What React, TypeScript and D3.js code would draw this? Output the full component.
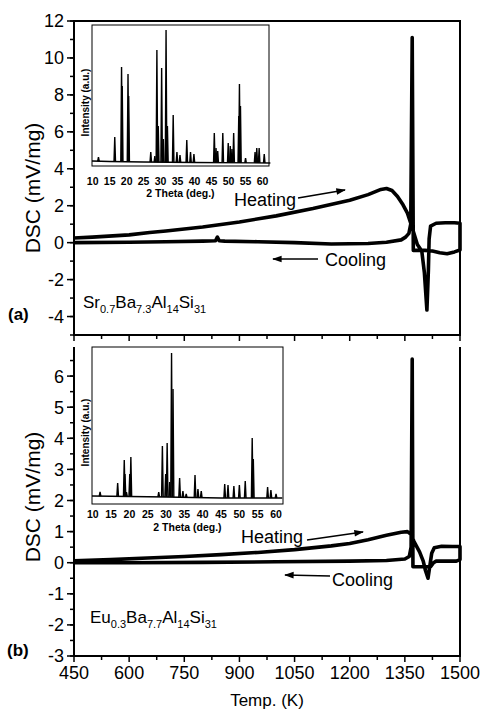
import React from 'react';
import * as d3 from 'd3';

// DSC traces, panel (a)
const aHeatT = [450, 500, 600, 656, 700, 800, 900, 1000, 1100, 1200, 1250, 1285, 1300, 1315, 1330, 1345, 1357, 1366, 1374, 1384, 1396, 1403, 1410, 1414, 1416, 1420, 1435, 1460, 1485, 1500];
const aHeatV = [0.25, 0.3, 0.42, 0.55, 0.63, 0.85, 1.12, 1.45, 1.85, 2.3, 2.6, 2.88, 2.93, 2.82, 2.5, 2.05, 1.6, 1.05, 0.55, -0.1, -0.45, -1.6, -3.65, -1.5, 0.2, 0.9, 1.05, 1.08, 1.08, 1.05];
const aCoolT = [1500, 1485, 1465, 1445, 1425, 1405, 1385, 1373, 1370, 1366, 1361, 1352, 1340, 1300, 1250, 1150, 1050, 950, 860, 845, 840, 835, 800, 700, 600, 450];
const aCoolV = [-0.4, -0.5, -0.6, -0.55, -0.45, -0.42, -0.42, -0.42, 11.1, 1.0, 0.5, 0.3, 0.15, 0.02, -0.05, -0.07, 0.0, 0.05, 0.08, 0.1, 0.3, 0.1, 0.08, 0.05, 0.02, 0.0];

// DSC traces, panel (b)
const bHeatT = [450, 550, 650, 750, 850, 950, 1050, 1150, 1200, 1250, 1300, 1340, 1357, 1366, 1375, 1390, 1400, 1406, 1413, 1418, 1423, 1430, 1450, 1480, 1500];
const bHeatV = [0.06, 0.1, 0.15, 0.2, 0.26, 0.33, 0.42, 0.54, 0.62, 0.74, 0.88, 0.98, 1.0, 0.92, 0.68, 0.35, 0.05, -0.25, -0.5, -0.1, 0.3, 0.48, 0.53, 0.52, 0.52];
const bCoolT = [1500, 1490, 1460, 1435, 1428, 1420, 1395, 1372, 1370, 1367, 1362, 1350, 1300, 1200, 1000, 800, 600, 450];
const bCoolV = [0.1, 0.05, 0.05, 0.05, 0.0, -0.13, -0.13, -0.13, 6.55, 0.5, 0.2, 0.12, 0.07, 0.05, 0.03, 0.01, 0.0, 0.0];

const tempTicks = [450, 600, 750, 900, 1050, 1200, 1350, 1500];
const aTicks = [-4, -2, 0, 2, 4, 6, 8, 10, 12];
const bTicks = [-3, -2, -1, 0, 1, 2, 3, 4, 5, 6];
const thetaTicks = [10, 15, 20, 25, 30, 35, 40, 45, 50, 55, 60];

// XRD insets: baseline and peaks (2theta, intensity a.u.)
const aBaseT = [9.8, 15, 25, 40, 62.3];
const aBaseI = [5, 4.5, 4, 3.5, 3];
const aPeakPos = [11.7, 16.5, 18.5, 18.7, 20.4, 20.6, 27.1, 28.3, 28.9, 29.3, 30.3, 30.8, 31.6, 32.0, 33.7, 34.8, 35.7, 37.7, 38.8, 39.8, 45.8, 46.3, 46.8, 48.3, 49.9, 50.5, 51.0, 51.5, 53.0, 53.2, 53.5, 55.0, 57.8, 58.3, 59.0, 60.5];
const aPeakInt = [9, 29, 99, 80, 92, 70, 14, 10, 116, 40, 98, 27, 136, 40, 51, 14, 11, 26, 14, 12, 33, 18, 15, 33, 23, 20, 17, 33, 50, 82, 60, 8, 14, 18, 18, 12];
const bBaseT = [9.8, 20, 30, 45, 61.7];
const bBaseI = [8, 7.5, 7, 6, 6];
const bPeakPos = [12.0, 16.8, 18.6, 18.8, 19.2, 20.1, 20.4, 28.0, 29.0, 29.9, 30.3, 31.0, 31.5, 31.9, 33.7, 34.6, 35.5, 37.9, 38.7, 39.6, 46.0, 46.9, 48.5, 50.0, 51.6, 53.5, 53.8, 57.7, 58.6, 60.0];
const bPeakInt = [12, 21, 44, 30, 12, 30, 47, 12, 58, 30, 61, 22, 151, 115, 26, 13, 10, 29, 15, 13, 20, 19, 18, 19, 23, 66, 45, 17, 14, 10];

const FONT = 'Liberation Sans, Arial, Helvetica, sans-serif';

const x = d3.scaleLinear().domain([450, 1500]).range([74, 460]);
const ya = d3.scaleLinear().domain([-5, 12]).range([335, 21]);
const yb = d3.scaleLinear().domain([-3, 7]).range([656, 345]);

function trace(ts: number[], vs: number[], ys: d3.ScaleLinear<number, number>) {
  return d3.line<number>().x((t) => x(t)).y((_, i) => ys(vs[i]))(ts) as string;
}

function YAxis({ ys, ticks, lo, hi, step }: any) {
  const minors = d3.range(lo, hi + 1e-9, step);
  return (
    <g>
      {minors.map((v: number) => (
        <line key={'m' + v} x1={70} x2={74} y1={ys(v)} y2={ys(v)} stroke="#000" strokeWidth={1.5} />
      ))}
      {ticks.map((v: number) => (
        <g key={v}>
          <line x1={67} x2={74} y1={ys(v)} y2={ys(v)} stroke="#000" strokeWidth={1.5} />
          <text x={64} y={ys(v)} dy="0.36em" textAnchor="end" fontSize={18}>{v}</text>
        </g>
      ))}
    </g>
  );
}

function XTicks({ y0 }: { y0: number }) {
  const minors = d3.range(525, 1500, 150);
  return (
    <g>
      {tempTicks.map((t) => (
        <line key={t} x1={x(t)} x2={x(t)} y1={y0} y2={y0 + 6} stroke="#000" strokeWidth={1.5} />
      ))}
      {minors.map((t) => (
        <line key={'m' + t} x1={x(t)} x2={x(t)} y1={y0} y2={y0 + 4} stroke="#000" strokeWidth={1.5} />
      ))}
    </g>
  );
}

function Inset({ x0, x1, y0, y1, baseT, baseI, pos, ints, imax, tickY, titleY }: any) {
  const sx = d3.scaleLinear().domain([9.8, 61.9]).range([x0, x1]);
  const sy = d3.scaleLinear().domain([0, imax]).range([y1, y0]);
  const base = d3.scaleLinear().domain(baseT).range(baseI);
  const baseLine = d3.line<number>().x((t) => sx(t)).y((_, i) => sy(baseI[i]))(baseT) as string;
  const w = 0.22;
  return (
    <g>
      <rect x={x0} y={y0} width={x1 - x0} height={y1 - y0} fill="#fff" stroke="#000" strokeWidth={1} />
      <path d={baseLine} fill="none" stroke="#000" strokeWidth={1.4} />
      {pos.map((p: number, i: number) => (
        <path
          key={i}
          d={`M${sx(p - w)},${sy(base(p - w))}L${sx(p)},${sy(ints[i])}L${sx(p + w)},${sy(base(p + w))}`}
          fill="none"
          stroke="#000"
          strokeWidth={1.4}
        />
      ))}
      {thetaTicks.map((t) => (
        <text key={t} x={sx(t)} y={tickY} dy="0.35em" textAnchor="middle" fontSize={10.5} fontWeight="bold">{t}</text>
      ))}
      <text x={(x0 + x1) / 2} y={titleY} dy="0.35em" textAnchor="middle" fontSize={10.5} fontWeight="bold">2 Theta (deg.)</text>
      <text transform={`translate(85,${(y0 + y1) / 2 + 7}) rotate(-90)`} dy="0.35em" textAnchor="middle" fontSize={10} fontWeight="bold">Intensity (a.u.)</text>
    </g>
  );
}

function Formula({ x0, y0, a, b }: { x0: number; y0: number; a: string[]; b: string[] }) {
  // a: element symbols, b: subscripts
  return (
    <text x={x0} y={y0} fontSize={17}>
      {a.map((el, i) => (
        <React.Fragment key={i}>
          <tspan dy={i === 0 ? 0 : -5} fontSize={17}>{el}</tspan>
          <tspan dy={5} fontSize={11}>{b[i]}</tspan>
        </React.Fragment>
      ))}
    </text>
  );
}

export default function App() {
  const aPath = trace(aHeatT, aHeatV, ya) + 'L' + trace(aCoolT, aCoolV, ya).slice(1);
  const bPath = trace(bHeatT, bHeatV, yb) + 'L' + trace(bCoolT, bCoolV, yb).slice(1);
  return (
    <div style={{ position: 'absolute', left: 0, top: 0 }}>
      <svg width={481} height={713} style={{ display: 'block', fontFamily: FONT }}>
        <defs>
          <marker id="ah" viewBox="0 0 10 10" refX={9} refY={5} markerWidth={7} markerHeight={6} orient="auto">
            <path d="M0,1.5L10,5L0,8.5Z" fill="#000" />
          </marker>
        </defs>
        <rect width={481} height={713} fill="#fff" />

        {/* panel (a) */}
        <Inset x0={92} x1={269} y0={25} y1={166} baseT={aBaseT} baseI={aBaseI} pos={aPeakPos} ints={aPeakInt} imax={141} tickY={181} titleY={193} />
        <path d={aPath} fill="none" stroke="#000" strokeWidth={3.6} strokeLinejoin="round" />
        <rect x={74} y={21} width={386} height={314} fill="none" stroke="#000" strokeWidth={2} />
        <YAxis ys={ya} ticks={aTicks} lo={-5} hi={12} step={1} />
        <XTicks y0={335} />
        <text x={234} y={206} fontSize={18}>Heating</text>
        <line x1={298} y1={198} x2={345} y2={190} stroke="#000" strokeWidth={1.6} markerEnd="url(#ah)" />
        <text x={325} y={266} fontSize={18}>Cooling</text>
        <line x1={318} y1={259} x2={273} y2={259} stroke="#000" strokeWidth={1.6} markerEnd="url(#ah)" />
        <Formula x0={83} y0={308} a={['Sr', 'Ba', 'Al', 'Si']} b={['0.7', '7.3', '14', '31']} />
        <text x={8} y={320} fontSize={17} fontWeight="bold">(a)</text>
        <text transform="translate(40,188) rotate(-90)" textAnchor="middle" fontSize={21}>DSC (mV/mg)</text>

        {/* panel (b) */}
        <Inset x0={92} x1={283} y0={347} y1={504} baseT={bBaseT} baseI={bBaseI} pos={bPeakPos} ints={bPeakInt} imax={157} tickY={514} titleY={527} />
        <path d={bPath} fill="none" stroke="#000" strokeWidth={3.6} strokeLinejoin="round" />
        <path d="M74,347V656H460V347" fill="none" stroke="#000" strokeWidth={2} />
        <YAxis ys={yb} ticks={bTicks} lo={-3} hi={6.5} step={0.5} />
        <XTicks y0={656} />
        {tempTicks.map((t) => (
          <text key={t} x={x(t)} y={679} textAnchor="middle" fontSize={18}>{t}</text>
        ))}
        <text x={241} y={543} fontSize={18}>Heating</text>
        <line x1={307} y1={540} x2={363} y2={532} stroke="#000" strokeWidth={1.6} markerEnd="url(#ah)" />
        <text x={332} y={586} fontSize={18}>Cooling</text>
        <line x1={330} y1={576} x2={285} y2={575} stroke="#000" strokeWidth={1.6} markerEnd="url(#ah)" />
        <Formula x0={90} y0={623} a={['Eu', 'Ba', 'Al', 'Si']} b={['0.3', '7.7', '14', '31']} />
        <text x={7} y={656} fontSize={17} fontWeight="bold">(b)</text>
        <text transform="translate(40,497) rotate(-90)" textAnchor="middle" fontSize={21}>DSC (mV/mg)</text>

        <text x={267} y={706} textAnchor="middle" fontSize={17}>Temp. (K)</text>
      </svg>
    </div>
  );
}
